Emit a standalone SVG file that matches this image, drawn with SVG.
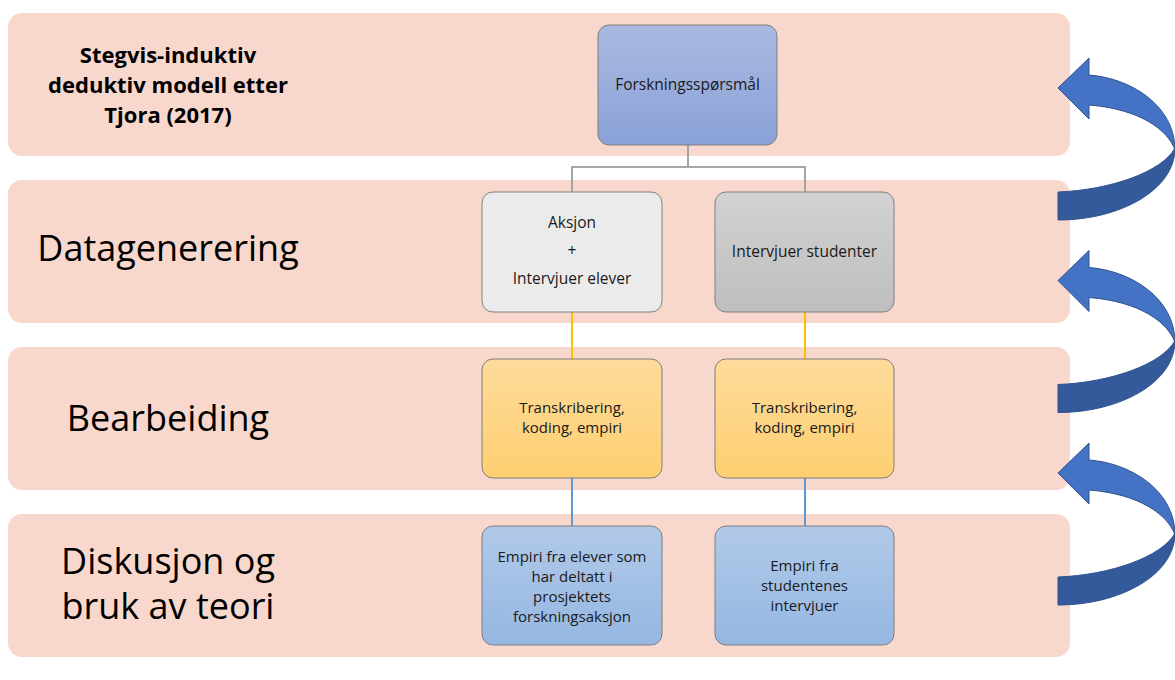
<svg xmlns="http://www.w3.org/2000/svg" width="1175" height="680" viewBox="0 0 1175 680">
<defs>
<linearGradient id="gTop" x1="0" y1="0" x2="0" y2="1"><stop offset="0" stop-color="#aab9e0"/><stop offset="1" stop-color="#8aa2d8"/></linearGradient>
<linearGradient id="gGrey" x1="0" y1="0" x2="0" y2="1"><stop offset="0" stop-color="#d2d2d2"/><stop offset="1" stop-color="#bebebe"/></linearGradient>
<linearGradient id="gYel" x1="0" y1="0" x2="0" y2="1"><stop offset="0" stop-color="#fedb9b"/><stop offset="1" stop-color="#fdcf70"/></linearGradient>
<linearGradient id="gBlue" x1="0" y1="0" x2="0" y2="1"><stop offset="0" stop-color="#b1c9e8"/><stop offset="1" stop-color="#95b7e2"/></linearGradient>
<g id="arrow">
<path d="M1058,88 L1089,58 L1089,75 C1130,78 1175,105 1175,150 C1168,130 1140,109 1089,105 L1089,119 Z" fill="#4472c4" stroke="#2f528f" stroke-width="1"/>
<path d="M1058,192 C1110,190 1162,172 1175,148 C1175,190 1120,220 1058,220 Z" fill="#345a9c" stroke="#2f528f" stroke-width="1"/>
</g>
</defs>
<style>
.band{fill:#f8d8cd}
.node{stroke:#7f7f7f;stroke-width:1}
.t{font-family:"Open Sans","Liberation Sans",sans-serif;font-size:15.5px;fill:#1a1a1a;text-anchor:middle}
.t2{font-size:15px}
.big{font-family:"Open Sans","Liberation Sans",sans-serif;font-size:36px;fill:#000;text-anchor:middle}
.hd{font-family:"Open Sans","Liberation Sans",sans-serif;font-size:22px;font-weight:bold;fill:#000;text-anchor:middle}
.cg{stroke:#a5a5a5;stroke-width:2;fill:none}
.co{stroke:#ffc000;stroke-width:2;fill:none}
.cb{stroke:#5b9bd5;stroke-width:2;fill:none}
</style>
<rect width="1175" height="680" fill="#fff"/>
<g id="bands">
<rect class="band" x="8" y="13" width="1062" height="143" rx="14"/>
<rect class="band" x="8" y="180" width="1062" height="143" rx="14"/>
<rect class="band" x="8" y="347" width="1062" height="143" rx="14"/>
<rect class="band" x="8" y="514" width="1062" height="143" rx="14"/>
</g>
<g id="labels">
<text class="hd"><tspan x="168" y="63">Stegvis-induktiv</tspan><tspan x="168" y="93">deduktiv modell etter</tspan><tspan x="168" y="123">Tjora (2017)</tspan></text>
<text class="big" x="168" y="261">Datagenerering</text>
<text class="big" x="168" y="431">Bearbeiding</text>
<text class="big"><tspan x="168" y="574">Diskusjon og</tspan><tspan x="168" y="619">bruk av teori</tspan></text>
</g>
<g id="connectors">
<path class="cg" d="M688,145 V167 M572,192 V167 H805 V192"/>
<path class="co" d="M572,312 V359 M805,312 V359"/>
<path class="cb" d="M572,478 V526 M805,478 V526"/>
</g>
<g id="n-forsk">
<rect class="node" x="598" y="25" width="179" height="120" rx="11" fill="url(#gTop)"/>
<text class="t" x="687.5" y="90">Forskningsspørsmål</text>
</g>
<g id="n-aksjon">
<rect class="node" x="482" y="192" width="180" height="120" rx="11" fill="#ebebeb"/>
<text class="t"><tspan x="572" y="228">Aksjon</tspan><tspan x="572" y="256">+</tspan><tspan x="572" y="284">Intervjuer elever</tspan></text>
</g>
<g id="n-studenter">
<rect class="node" x="715" y="192" width="179" height="120" rx="11" fill="url(#gGrey)"/>
<text class="t" x="804.5" y="257">Intervjuer studenter</text>
</g>
<g id="n-trans1">
<rect class="node" x="482" y="359" width="180" height="119" rx="11" fill="url(#gYel)"/>
<text class="t t2"><tspan x="572" y="413">Transkribering,</tspan><tspan x="572" y="433">koding, empiri</tspan></text>
</g>
<g id="n-trans2">
<rect class="node" x="715" y="359" width="179" height="119" rx="11" fill="url(#gYel)"/>
<text class="t t2"><tspan x="804.5" y="413">Transkribering,</tspan><tspan x="804.5" y="433">koding, empiri</tspan></text>
</g>
<g id="n-empiri1">
<rect class="node" x="482" y="526" width="180" height="119" rx="11" fill="url(#gBlue)"/>
<text class="t t2"><tspan x="572" y="562">Empiri fra elever som</tspan><tspan x="572" y="582">har deltatt i</tspan><tspan x="572" y="602">prosjektets</tspan><tspan x="572" y="622">forskningsaksjon</tspan></text>
</g>
<g id="n-empiri2">
<rect class="node" x="715" y="526" width="179" height="119" rx="11" fill="url(#gBlue)"/>
<text class="t t2"><tspan x="804.5" y="571">Empiri fra</tspan><tspan x="804.5" y="591">studentenes</tspan><tspan x="804.5" y="611">intervjuer</tspan></text>
</g>
<g id="arrows">
<use href="#arrow"/>
<use href="#arrow" transform="translate(0,192.5)"/>
<use href="#arrow" transform="translate(0,385)"/>
</g>
</svg>
